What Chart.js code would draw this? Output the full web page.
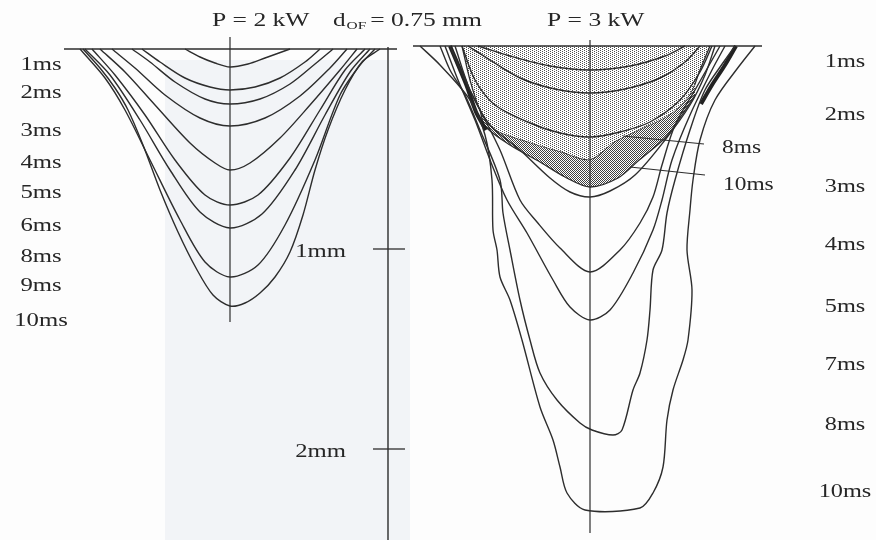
<!DOCTYPE html>
<html>
<head>
<meta charset="utf-8">
<script src="https://cdn.jsdelivr.net/npm/chart.js@4.4.1/dist/chart.umd.min.js"></script>
<style>
  html, body { margin: 0; padding: 0; background: #fdfdfd; }
  #wrap { width: 876px; height: 540px; position: relative; }
</style>
</head>
<body>
<div id="wrap"><canvas id="poolChart"></canvas></div>
<script>
// weld pool cross sections, [x (mm from axis), depth (mm below surface)]
var leftTitle = "P = 2 kW";
var rightTitle = "P = 3 kW";
var leftTimes = ["1ms", "2ms", "3ms", "4ms", "5ms", "6ms", "8ms", "9ms", "10ms"];
var leftContours = [
  [[-0.225, 0], [-0.15, 0.04], [-0.075, 0.07], [0, 0.09], [0.09, 0.075], [0.175, 0.045], [0.30, 0]],
  [[-0.44, 0], [-0.35, 0.065], [-0.225, 0.145], [-0.10, 0.19], [0, 0.205], [0.125, 0.19], [0.25, 0.145], [0.375, 0.065], [0.45, 0]],
  [[-0.49, 0], [-0.40, 0.065], [-0.275, 0.165], [-0.125, 0.25], [0, 0.275], [0.15, 0.25], [0.30, 0.175], [0.425, 0.075], [0.515, 0]],
  [[-0.59, 0], [-0.475, 0.095], [-0.325, 0.23], [-0.15, 0.345], [0, 0.385], [0.175, 0.345], [0.35, 0.235], [0.50, 0.095], [0.585, 0]],
  [[-0.65, 0], [-0.525, 0.115], [-0.375, 0.28], [-0.20, 0.47], [-0.075, 0.57], [0, 0.605], [0.10, 0.57], [0.25, 0.445], [0.40, 0.28], [0.55, 0.105], [0.635, 0]],
  [[-0.69, 0], [-0.575, 0.13], [-0.425, 0.33], [-0.275, 0.555], [-0.125, 0.73], [0, 0.78], [0.14, 0.73], [0.30, 0.545], [0.45, 0.305], [0.575, 0.105], [0.675, 0]],
  [[-0.725, 0], [-0.60, 0.13], [-0.45, 0.355], [-0.30, 0.605], [-0.15, 0.815], [0, 0.895], [0.16, 0.825], [0.325, 0.605], [0.475, 0.33], [0.60, 0.115], [0.70, 0]],
  [[-0.75, 0], [-0.625, 0.145], [-0.525, 0.305], [-0.40, 0.555], [-0.25, 0.855], [-0.125, 1.065], [0, 1.14], [0.14, 1.08], [0.275, 0.88], [0.425, 0.555], [0.55, 0.23], [0.65, 0.08], [0.725, 0]],
  [[-0.735, 0], [-0.65, 0.095], [-0.575, 0.195], [-0.51, 0.305], [-0.435, 0.48], [-0.35, 0.705], [-0.26, 0.915], [-0.17, 1.095], [-0.085, 1.23], [0, 1.285], [0.075, 1.27], [0.15, 1.22], [0.225, 1.14], [0.30, 1.015], [0.365, 0.83], [0.425, 0.605], [0.49, 0.405], [0.575, 0.205], [0.66, 0.065], [0.75, 0]]
];

var rightTimes = ["1ms", "2ms", "3ms", "4ms", "5ms", "7ms", "8ms", "10ms"];
var rightContours = [
  [[-0.56, 0], [-0.40, 0.05], [-0.20, 0.10], [0, 0.12], [0.20, 0.10], [0.375, 0.05], [0.475, 0]],
  [[-0.61, 0], [-0.50, 0.07], [-0.35, 0.16], [-0.175, 0.215], [0, 0.235], [0.175, 0.215], [0.35, 0.16], [0.475, 0.08], [0.55, 0]],
  [[-0.64, 0], [-0.575, 0.17], [-0.475, 0.295], [-0.30, 0.385], [-0.15, 0.435], [0, 0.455], [0.15, 0.43], [0.30, 0.38], [0.45, 0.27], [0.55, 0.13], [0.61, 0]],
  [[-0.675, 0], [-0.60, 0.22], [-0.50, 0.395], [-0.35, 0.52], [-0.20, 0.66], [-0.10, 0.73], [0, 0.755], [0.10, 0.725], [0.225, 0.645], [0.375, 0.47], [0.50, 0.295], [0.575, 0.145], [0.625, 0]],
  [[-0.70, 0], [-0.625, 0.17], [-0.55, 0.32], [-0.45, 0.52], [-0.35, 0.77], [-0.265, 0.88], [-0.15, 1.01], [0, 1.13], [0.15, 1.02], [0.25, 0.885], [0.315, 0.755], [0.36, 0.595], [0.425, 0.395], [0.525, 0.22], [0.65, 0]],
  [[-0.725, 0], [-0.66, 0.17], [-0.575, 0.37], [-0.49, 0.595], [-0.415, 0.77], [-0.315, 0.935], [-0.185, 1.17], [-0.10, 1.305], [0, 1.37], [0.10, 1.32], [0.215, 1.135], [0.315, 0.92], [0.36, 0.77], [0.41, 0.57], [0.50, 0.345], [0.61, 0.12], [0.675, 0]],
  [[-0.75, 0], [-0.70, 0.12], [-0.625, 0.245], [-0.55, 0.42], [-0.45, 0.67], [-0.435, 0.835], [-0.40, 1.02], [-0.35, 1.27], [-0.30, 1.47], [-0.25, 1.635], [-0.165, 1.77], [-0.05, 1.885], [0.01, 1.92], [0.115, 1.945], [0.16, 1.92], [0.215, 1.72], [0.25, 1.635], [0.285, 1.47], [0.30, 1.32], [0.315, 1.12], [0.36, 1.02], [0.385, 0.835], [0.425, 0.67], [0.50, 0.42], [0.575, 0.22], [0.675, 0.07], [0.725, 0]],
  [[-0.85, 0], [-0.75, 0.095], [-0.60, 0.27], [-0.525, 0.445], [-0.49, 0.67], [-0.485, 0.92], [-0.465, 1.02], [-0.45, 1.155], [-0.40, 1.27], [-0.34, 1.47], [-0.25, 1.805], [-0.185, 1.97], [-0.15, 2.105], [-0.115, 2.235], [-0.025, 2.32], [0.25, 2.31], [0.315, 2.235], [0.365, 2.105], [0.385, 1.87], [0.415, 1.72], [0.465, 1.57], [0.49, 1.47], [0.51, 1.22], [0.485, 1.02], [0.50, 0.82], [0.515, 0.67], [0.55, 0.47], [0.625, 0.27], [0.75, 0.095], [0.825, 0]]
];
// resolidified zones (shaded) after 8 ms and 10 ms
var zone8ms = [[-0.64, 0], [-0.60, 0.17], [-0.55, 0.32], [-0.475, 0.42], [-0.30, 0.485], [-0.15, 0.53], [0, 0.57], [0.125, 0.48], [0.25, 0.42], [0.40, 0.345], [0.50, 0.245], [0.55, 0.12], [0.60, 0]];
var zone10ms = [[-0.55, 0.32], [-0.525, 0.40], [-0.40, 0.495], [-0.25, 0.58], [-0.125, 0.655], [0, 0.705], [0.14, 0.66], [0.24, 0.575], [0.375, 0.46], [0.46, 0.345], [0.525, 0.245]];
var zoneLabels = ["8ms", "10ms"];
var zoneLeaders = [[[0.165, 0.45], [0.57, 0.49]], [[0.20, 0.605], [0.575, 0.645]]];
// dark overlapping fusion lines near the surface
var wallLeft = [[-0.70, 0], [-0.62, 0.19], [-0.57, 0.33], [-0.52, 0.42]];
var wallRight = [[0.73, 0], [0.675, 0.095], [0.61, 0.195], [0.555, 0.29]];

var rulerTicks = [1, 2];
var rulerLabels = ["1mm", "2mm"];

// page layout (pixels)
var PX = 200; // pixels per mm
var leftOrigin = { x: 230 / PX, y: 49 / PX };
var rightOrigin = { x: 590 / PX, y: 46 / PX };
var leftLabelY = [65, 93, 131, 163, 193, 226, 257, 286, 321];
var rightLabelY = [62, 115, 187, 245, 307, 365, 425, 492];
var zoneLabelDy = [4, 10];
var INK = "#2d2d2d";

function pts(list, o) {
  return list.map(function (p) {
    return { x: o.x + p[0], y: o.y + p[1] };
  });
}

function stipple(size, dots, color) {
  var c = document.createElement("canvas");
  c.width = size;
  c.height = size;
  var g = c.getContext("2d");
  g.fillStyle = "#ffffff";
  g.fillRect(0, 0, size, size);
  g.fillStyle = color;
  dots.forEach(function (d) {
    g.fillRect(d[0], d[1], 1, 1);
  });
  return g.createPattern(c, "repeat");
}

function line(data, width, extra) {
  var ds = {
    data: data,
    showLine: true,
    borderColor: INK,
    borderWidth: width,
    pointRadius: 0,
    tension: 0,
    fill: false,
    order: 0
  };
  return Object.assign(ds, extra || {});
}

var datasets = [];
//shaded zones
datasets.push(line(pts(zone8ms, rightOrigin), 1.3, {
  tension: 0.3,
  fill: { value: rightOrigin.y },
  backgroundColor: stipple(4, [[0, 0], [2, 1], [0, 2], [2, 3]], "#505050"),
  order: 5
}));
datasets.push(line(pts(zone10ms, rightOrigin), 1.3, {
  tension: 0.3,
  fill: "-1",
  backgroundColor: stipple(2, [[0, 0], [1, 1]], "#404040"),
  order: 4
}));
//contours
leftContours.forEach(function (c) {
  datasets.push(line(pts(c, leftOrigin), 1.4, { tension: 0.3 }));
});
rightContours.forEach(function (c) {
  datasets.push(line(pts(c, rightOrigin), 1.4, { tension: 0.3 }));
});
datasets.push(line(pts(wallLeft, rightOrigin), 4, { tension: 0.3, borderColor: "#222" }));
datasets.push(line(pts(wallRight, rightOrigin), 4, { tension: 0.3, borderColor: "#222" }));
//axes of symmetry and surfaces
datasets.push(line(pts([[0, -0.06], [0, 1.365]], leftOrigin), 1.2));
datasets.push(line(pts([[0, -0.03], [0, 2.435]], rightOrigin), 1.2));
datasets.push(line(pts([[-0.83, 0], [0.835, 0]], leftOrigin), 1.3));
datasets.push(line(pts([[-0.885, 0], [0.86, 0]], rightOrigin), 1.3));
//ruler
var rulerX = 0.79;
datasets.push(line(pts([[rulerX, -0.01], [rulerX, 2.5]], leftOrigin), 1.4));
rulerTicks.forEach(function (t) {
  datasets.push(line(pts([[rulerX - 0.075, t], [rulerX + 0.085, t]], leftOrigin), 1.3));
});
zoneLeaders.forEach(function (l) {
  datasets.push(line(pts(l, rightOrigin), 1.2));
});

function drawText(ctx, str, x, y, size, align, stretch) {
  ctx.save();
  ctx.font = size + 'px "Liberation Serif", "DejaVu Serif", serif';
  ctx.textBaseline = "middle";
  ctx.textAlign = "left";
  ctx.fillStyle = "#262626";
  var w = ctx.measureText(str).width * stretch;
  var x0 = align === "center" ? x - w / 2 : align === "right" ? x - w : x;
  ctx.translate(x0, y);
  ctx.scale(stretch, 1);
  ctx.fillText(str, 0, 0);
  ctx.restore();
  return w;
}

var paperPlugin = {
  id: "paper",
  beforeDraw: function (chart) {
    var ctx = chart.ctx;
    ctx.save();
    ctx.fillStyle = "#fdfdfd";
    ctx.fillRect(0, 0, chart.width, chart.height);
    ctx.fillStyle = "#f2f4f7";
    ctx.fillRect(165, 60, 245, chart.height - 60);
    ctx.restore();
  }
};

var textPlugin = {
  id: "texts",
  afterDraw: function (chart) {
    var ctx = chart.ctx;
    var xs = chart.scales.x;
    var ys = chart.scales.y;
    // titles
    drawText(ctx, leftTitle, 212, 21, 18, "left", 1.42);
    var x = 333;
    x += drawText(ctx, "d", x, 21, 18, "left", 1.4);
    x += drawText(ctx, "OF", x + 1, 26, 11, "left", 1.4) + 5;
    drawText(ctx, "= 0.75 mm", x, 21, 18, "left", 1.42);
    drawText(ctx, rightTitle, 547, 21, 18, "left", 1.42);
    // time labels
    leftTimes.forEach(function (t, i) {
      drawText(ctx, t, 41, leftLabelY[i], 19, "center", 1.3);
    });
    rightTimes.forEach(function (t, i) {
      drawText(ctx, t, 845, rightLabelY[i], 18, "center", 1.35);
    });
    // leader labels
    zoneLeaders.forEach(function (l, i) {
      var end = l[l.length - 1];
      var px = xs.getPixelForValue(rightOrigin.x + end[0]) + 18;
      var py = ys.getPixelForValue(rightOrigin.y + end[1]) + zoneLabelDy[i];
      drawText(ctx, zoneLabels[i], px, py, 18, "left", 1.3);
    });
    // ruler labels
    rulerTicks.forEach(function (t, i) {
      var px = xs.getPixelForValue(leftOrigin.x + rulerX) - 42;
      var py = ys.getPixelForValue(leftOrigin.y + t) + 3;
      drawText(ctx, rulerLabels[i], px, py, 19, "right", 1.3);
    });
  }
};

new Chart(document.getElementById("poolChart"), {
  type: "scatter",
  data: { datasets: datasets },
  options: {
    responsive: true,
    maintainAspectRatio: false,
    animation: false,
    layout: { padding: 0 },
    plugins: {
      legend: { display: false },
      tooltip: { enabled: false }
    },
    scales: {
      x: { type: "linear", display: false, min: 0, max: 876 / PX },
      y: { type: "linear", display: false, reverse: true, min: 0, max: 540 / PX }
    }
  },
  plugins: [paperPlugin, textPlugin]
});
</script>
</body>
</html>
